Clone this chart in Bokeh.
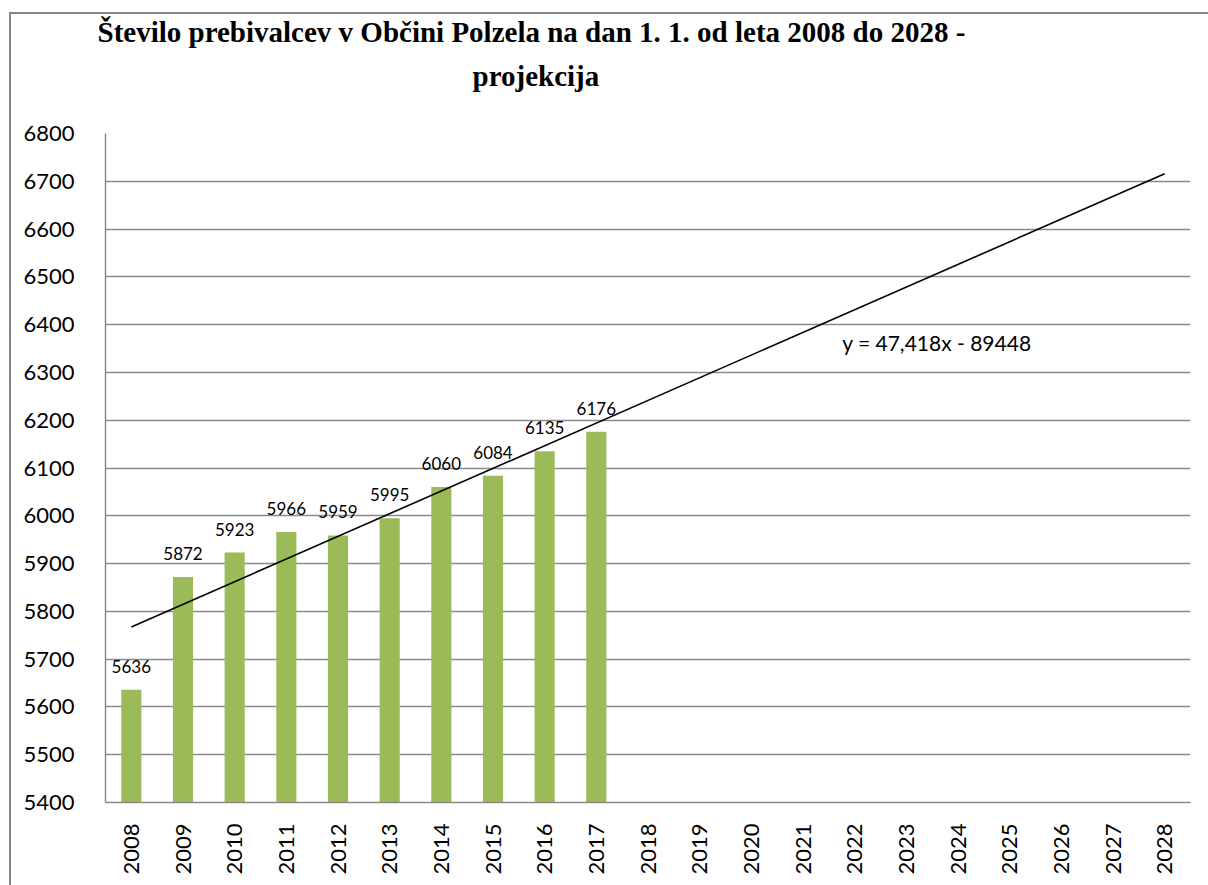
import math
from bokeh.plotting import figure
from bokeh.models import (ColumnDataSource, FixedTicker, LabelSet, Label, Title, Range1d,
                          FactorRange)
from bokeh.core.properties import value
from bokeh.embed import file_html
from bokeh.resources import INLINE

# ---- data ----
years = [str(y) for y in range(2008, 2029)]
obs_years = ["2008", "2009", "2010", "2011", "2012", "2013", "2014", "2015", "2016", "2017"]
population = [5636, 5872, 5923, 5966, 5959, 5995, 6060, 6084, 6135, 6176]
trend_slope = 47.418
trend_intercept = -89448
trend_years = ["2008", "2028"]
y_ticks = list(range(5400, 6801, 100))
title_line1 = "Število prebivalcev v Občini Polzela na dan 1. 1. od leta 2008 do 2028 -"
title_line2 = "projekcija"
equation_text = "y = 47,418x - 89448"

GRID = "#8a8a8a"
BAR = "#9BBB59"
FONT = "Lato"
FRAME = "#878787"

p = figure(x_range=FactorRange(*years, range_padding=0, factor_padding=0),
           y_range=Range1d(5400, 6800),
           width=1199, height=885, output_backend="svg", toolbar_location=None,
           min_border_left=96, min_border_right=18, min_border_top=133, min_border_bottom=83)
p.margin = (0, 0, 0, 9)
p.styles = {
    "background": (f"linear-gradient({FRAME},{FRAME}) 0px 12px / 2px 100% no-repeat, "
                   f"linear-gradient({FRAME},{FRAME}) 0px 12px / 100% 2px no-repeat, white"),
}
p.outline_line_color = None
p.background_fill_color = "white"
p.border_fill_color = None

# bars
src = ColumnDataSource(dict(x=obs_years, y=population, lbl=[str(v) for v in population]))
p.vbar(x="x", top="y", bottom=5400, width=0.39, source=src, fill_color=BAR, line_color=None)

# trend line
tsrc = ColumnDataSource(dict(x=trend_years,
                             y=[trend_slope * int(t) + trend_intercept for t in trend_years]))
p.line(x="x", y="y", source=tsrc, line_color="black", line_width=1.6)

# data labels
p.add_layout(LabelSet(x="x", y="y", text="lbl", source=src, y_offset=17,
                      text_align="center", text_baseline="alphabetic",
                      text_font=value(FONT), text_font_size=value("17px"),
                      text_color="#000000"))

# equation label
p.add_layout(Label(x=14.26, y=6362, text=equation_text, text_align="left",
                   text_baseline="middle", text_font=FONT, text_font_size="21px",
                   text_color="#000000"))

# axes
p.yaxis.ticker = FixedTicker(ticks=y_ticks)
p.yaxis.major_tick_line_color = None
p.yaxis.minor_tick_line_color = None
p.yaxis.axis_line_color = GRID
p.yaxis.axis_line_width = 1.5
p.yaxis.major_label_standoff = 25
p.yaxis.major_label_text_font = FONT
p.yaxis.major_label_text_font_size = "22px"
p.yaxis.major_label_text_color = "#000000"

p.xaxis.major_tick_line_color = None
p.xaxis.axis_line_color = GRID
p.xaxis.axis_line_width = 1.5
p.xaxis.major_label_orientation = math.pi / 2
p.xaxis.major_label_standoff = 15
p.xaxis.major_label_text_font = FONT
p.xaxis.major_label_text_font_size = "22px"
p.xaxis.major_label_text_color = "#000000"

p.xgrid.grid_line_color = None
p.ygrid.grid_line_color = GRID
p.ygrid.grid_line_width = 1.5
p.ygrid.ticker = FixedTicker(ticks=y_ticks)

# titles (added nearest-first)
p.add_layout(Title(text=" ", text_font_size="22px"), "above")
p.add_layout(Title(text=title_line2, align="left", offset=367,
                   text_font="Liberation Serif", text_font_style="bold",
                   text_font_size="29px", text_color="#000000"), "above")
p.add_layout(Title(text=title_line1, align="left", offset=-8,
                   text_font="Liberation Serif", text_font_style="bold",
                   text_font_size="29px", text_color="#000000"), "above")

open("out.html", "w").write(file_html(p, INLINE))
